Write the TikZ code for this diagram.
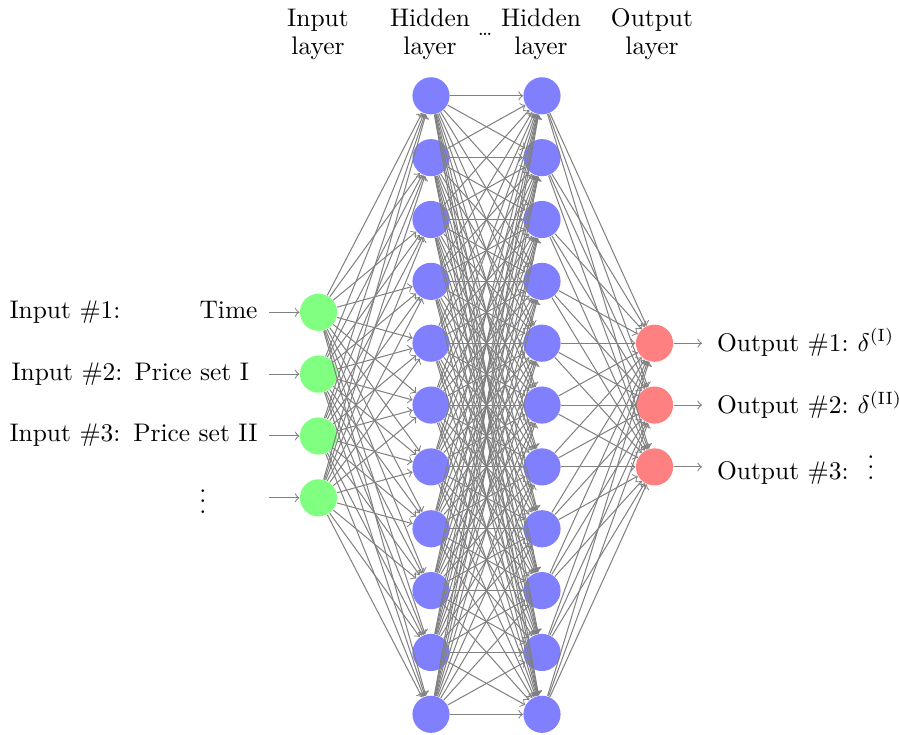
\documentclass[tikz,border=0pt]{standalone}
\begin{document}
\begin{tikzpicture}[x=0.393pt,y=-0.393pt,
  neuron/.style={circle,minimum size=14.6pt,inner sep=0pt},
  inneuron/.style={neuron,fill=green!50},
  hidneuron/.style={neuron,fill=blue!50},
  outneuron/.style={neuron,fill=red!50},
  conn/.style={->,black!50},
  lblw/.style={anchor=base west,inner sep=0pt},
  lble/.style={anchor=base east,inner sep=0pt},
  lblc/.style={anchor=base,inner sep=0pt},
  hdr/.style={align=center,inner sep=0pt}]
\useasboundingbox (0,0) rectangle (899,734);
% headers
\node[hdr] (hI) at (318,34.5) {Input\\[-0.9pt]layer};
\node[hdr] (hH1) at (430,34.5) {Hidden\\[-0.9pt]layer};
\node[hdr] (hH2) at (541,34.5) {Hidden\\[-0.9pt]layer};
\node[hdr] (hO) at (652,34.5) {Output\\[-0.9pt]layer};
\node[lblc] (hdots) at (485,35.5) {\footnotesize\ldots};
% neurons
\foreach \i in {1,...,11} {
  \pgfmathsetmacro\yy{95.8+61.85*(\i-1)}
  \node[hidneuron] (H1-\i) at (431,\yy) {};
  \node[hidneuron] (H2-\i) at (542,\yy) {};
}
\foreach \j in {1,...,4} {
  \pgfmathsetmacro\yy{95.8+61.85*(\j+2.5)}
  \node[inneuron] (I-\j) at (318.5,\yy) {};
  \coordinate (ia\j) at (269,\yy);
  \draw[conn] (ia\j) -- (I-\j);
}
\foreach \k in {1,...,3} {
  \pgfmathsetmacro\yy{95.8+61.85*(\k+3)}
  \node[outneuron] (O-\k) at (654.5,\yy) {};
  \coordinate (oa\k) at (702,\yy);
  \draw[conn] (O-\k) -- (oa\k);
}
% connections
\foreach \j in {1,...,4} \foreach \i in {1,...,11} \draw[conn] (I-\j) -- (H1-\i);
\foreach \i in {1,...,11} \foreach \m in {1,...,11} \draw[conn] (H1-\i) -- (H2-\m);
\foreach \m in {1,...,11} \foreach \k in {1,...,3} \draw[conn] (H2-\m) -- (O-\k);
% input labels
\node[lblw] (l1a) at (9,318.3) {Input \#1:};
\node[lble] (l1b) at (258,318.3) {Time};
\node[lblw] (l2a) at (11,380) {Input \#2:};
\node[lble] (l2b) at (249.5,380) {Price set I};
\node[lblw] (l3a) at (9,441.7) {Input \#3:};
\node[lble] (l3b) at (258,441.7) {Price set II};
\node[lblc] (l4) at (203,513) {$\smash{\vdots}$};
% output labels
\node[lblw] (o1a) at (716.6,351) {Output \#1:};
\node[lblw] (o1b) at (857,351) {$\delta^{(\mathrm{I})}$};
\node[lblw] (o2a) at (716.6,413.5) {Output \#2:};
\node[lblw] (o2b) at (857,413.5) {$\delta^{(\mathrm{II})}$};
\node[lblw] (o3a) at (716.6,479) {Output \#3:};
\node[lblc] (o3b) at (871,479) {$\smash{\vdots}$};
\end{tikzpicture}
\end{document}
